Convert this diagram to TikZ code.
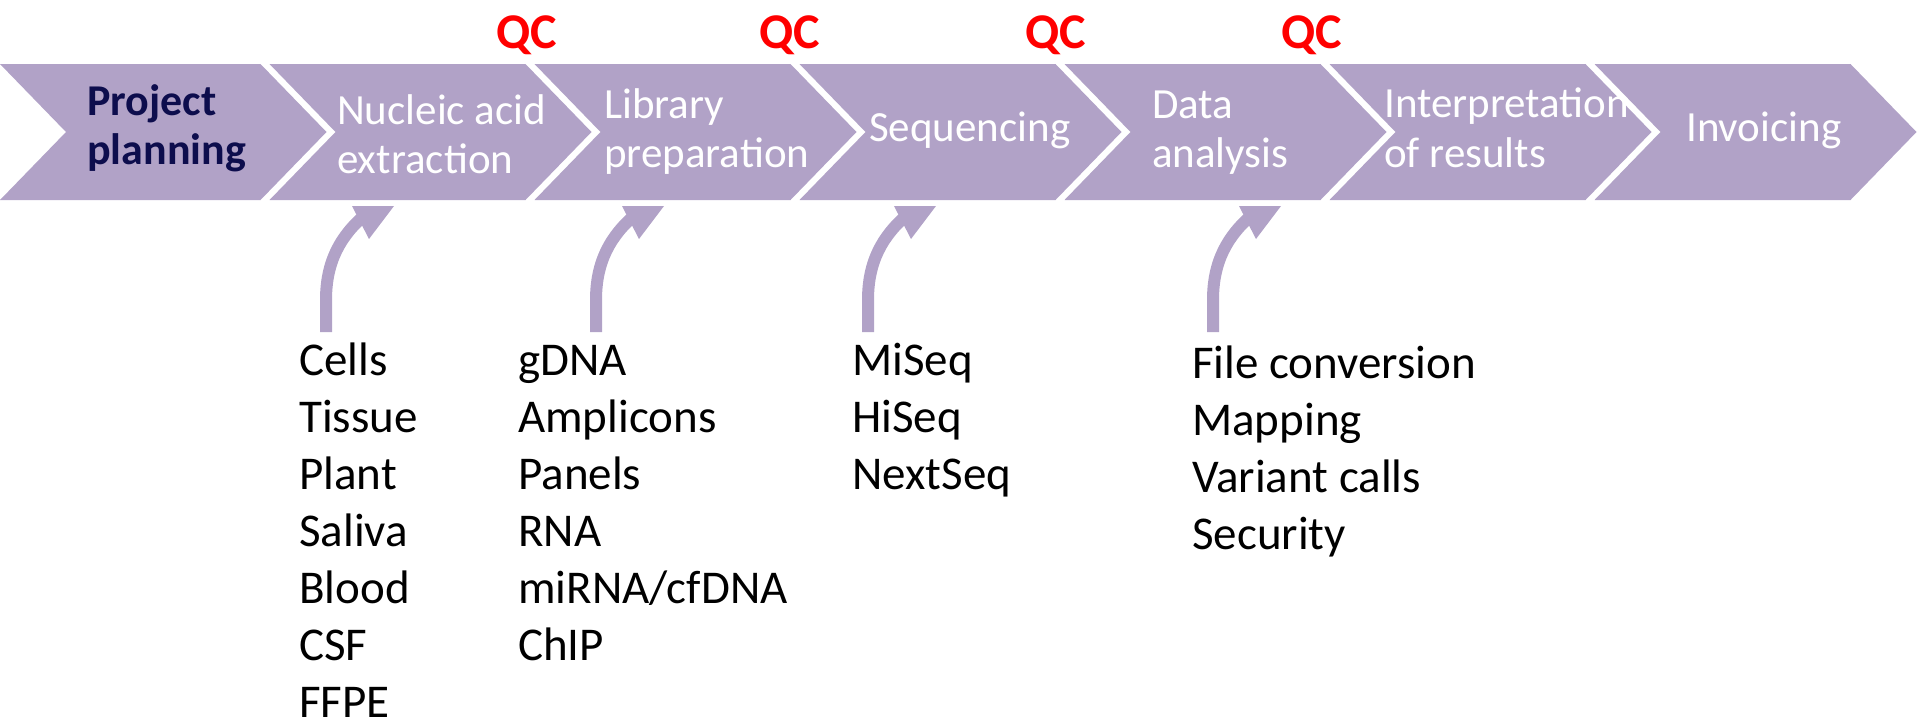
\documentclass[tikz,border=0pt]{standalone}
\usepackage{fontspec}
\setmainfont{Carlito}
\definecolor{chev}{HTML}{B1A2C7}
\definecolor{navy}{HTML}{0D0D4D}
\definecolor{qcred}{HTML}{FF0000}
\tikzset{
  chevfill/.style={fill=chev, draw=none},
  steptext/.style={anchor=base west, inner sep=0pt, text=white, font=\fontsize{43}{52}\selectfont},
  boldtext/.style={anchor=base west, inner sep=0pt, text=navy, font=\fontsize{44}{53}\selectfont\bfseries},
  qclabel/.style={anchor=base, inner sep=0pt, text=qcred, font=\fontsize{50}{60}\selectfont\bfseries},
  listitem/.style={anchor=base west, inner sep=0pt, text=black, font=\fontsize{47}{57}\selectfont},
  arrowshaft/.style={draw=chev, line width=12pt},
}
\begin{document}
\begin{tikzpicture}[x=1pt,y=-1pt]
\useasboundingbox (0,0) rectangle (1920,723);

% chevrons
\fill[chevfill] (0,64) -- (260.5,64) -- (326.5,132) -- (260.5,200) -- (0,200) -- (66,132) -- cycle;
\foreach \k in {1,...,6}{
  \fill[chevfill] (265*\k+4.5,64) -- ++(256,0) -- ++(66,68) -- ++(-66,68) -- ++(-256,0) -- ++(66,-68) -- cycle;
}

% chevron labels
\node[boldtext] (p1) at (87,115) {Project};
\node[boldtext] (p2) at (87,164) {planning};
\node[steptext] (n1) at (337,124) {Nucleic acid};
\node[steptext] (n2) at (337,173) {extraction};
\node[steptext] (l1) at (604,118) {Library};
\node[steptext] (l2) at (604,167) {preparation};
\node[steptext] (sq) at (869,141) {Sequencing};
\node[steptext] (d1) at (1152,118) {Data};
\node[steptext] (d2) at (1152,167) {analysis};
\node[steptext] (i1) at (1384,117) {Interpretation};
\node[steptext] (i2) at (1384,167) {of results};
\node[steptext] (iv) at (1686,141) {Invoicing};

% QC labels
\node[qclabel] (qc1) at (527,48) {QC};
\node[qclabel] (qc2) at (790,48) {QC};
\node[qclabel] (qc3) at (1056,48) {QC};
\node[qclabel] (qc4) at (1312,48) {QC};

% curved arrows
\foreach \i/\dx in {1/0,2/270,3/542,4/887}{
  \coordinate (s\i) at (326+\dx,332);
  \coordinate (e\i) at (366+\dx,214);
  \draw[arrowshaft] (s\i) -- ++(0,-32) .. controls +(0,-38) and +(-26,22) .. (e\i);
  \fill[chevfill] (352+\dx,206) -- (394+\dx,206) -- (369+\dx,239) -- cycle;
}

% lists
\node[listitem] (c1) at (299,375) {Cells};
\node[listitem] (c2) at (299,432) {Tissue};
\node[listitem] (c3) at (299,489) {Plant};
\node[listitem] (c4) at (299,546) {Saliva};
\node[listitem] (c5) at (299,603) {Blood};
\node[listitem] (c6) at (299,660) {CSF};
\node[listitem] (c7) at (299,717) {FFPE};

\node[listitem] (g1) at (518,375) {gDNA};
\node[listitem] (g2) at (518,432) {Amplicons};
\node[listitem] (g3) at (518,489) {Panels};
\node[listitem] (g4) at (518,546) {RNA};
\node[listitem] (g5) at (518,603) {miRNA/cfDNA};
\node[listitem] (g6) at (518,660) {ChIP};

\node[listitem] (m1) at (852,375) {MiSeq};
\node[listitem] (m2) at (852,432) {HiSeq};
\node[listitem] (m3) at (852,489) {NextSeq};

\node[listitem] (f1) at (1192,378) {File conversion};
\node[listitem] (f2) at (1192,435) {Mapping};
\node[listitem] (f3) at (1192,492) {Variant calls};
\node[listitem] (f4) at (1192,549) {Security};
\end{tikzpicture}
\end{document}
